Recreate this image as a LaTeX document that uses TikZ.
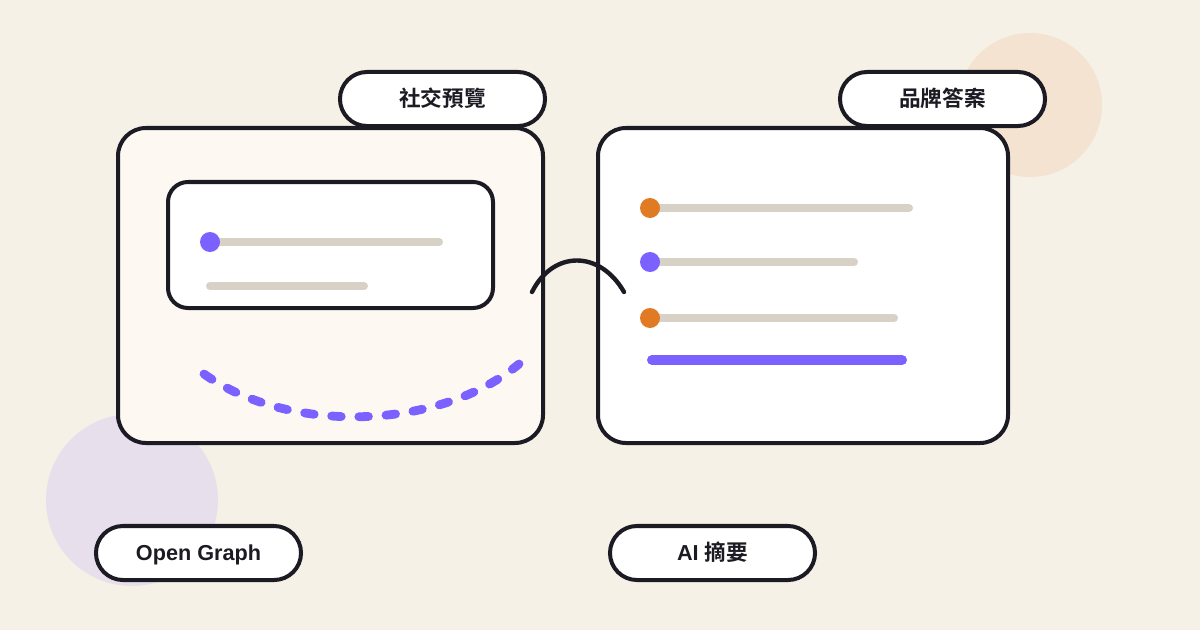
\documentclass[tikz,border=0pt]{standalone}
\usepackage{fontspec}
\setmainfont{Liberation Sans}
\newfontfamily\cjk{Noto Sans CJK TC}[BoldFont={* Bold}]
\usepackage{tikz}
\usetikzlibrary{shapes.misc, calc, positioning}
\usepackage{xcolor}
\definecolor{paper}{HTML}{F5F1E7}
\definecolor{cream}{HTML}{FDF9F2}
\definecolor{ink}{HTML}{1C1A23}
\definecolor{violet}{HTML}{7B61FF}
\definecolor{pumpkin}{HTML}{E07B24}
\definecolor{sand}{HTML}{D8D1C5}
\definecolor{peach}{HTML}{F5E3D1}
\definecolor{lilac}{HTML}{E7E0EC}

\begin{document}
\begin{tikzpicture}[x=0.025cm, y=-0.025cm, line join=round]
    \tikzstyle{card}=[draw=ink, line width=0.1cm, rounded corners=0.7cm]
    \tikzstyle{pill}=[rounded rectangle, draw=ink, fill=white, line width=0.1cm,
        minimum width=5.125cm, minimum height=1.35cm, inner sep=0pt,
        text height=11pt, text depth=0pt,
        text=ink, font=\bfseries\fontsize{15.4}{18}\selectfont]
    \tikzstyle{bar}=[sand, line width=0.2cm, line cap=round]
    \tikzstyle{dot}=[circle, inner sep=0pt, minimum size=0.5cm]

    % Background and frame
    \fill[paper] (0,0) rectangle (1200,630);
    \useasboundingbox (0,0) rectangle (1200,630);

    % Soft circles behind
    \fill[peach] (1030,105) circle[radius=1.8cm];
    \fill[lilac] (132,500) circle[radius=2.15cm];

    % Left card (social preview)
    \draw[card, fill=cream] (118,128) rectangle (543,443);
    \draw[card, fill=white, rounded corners=0.5cm] (168,182) rectangle (493,308);
    \coordinate (l1a) at (210,242);
    \coordinate (l1b) at (439,242);
    \coordinate (l2a) at (210,286);
    \coordinate (l2b) at (364,286);
    \draw[bar] (l1a) -- (l1b);
    \draw[bar] (l2a) -- (l2b);
    \node (dotL)[dot, fill=violet] at (l1a) {};

    % Dashed smile
    \coordinate (sa) at (204,374);
    \coordinate (sb) at (519,364);
    \draw[violet, line width=0.22cm, line cap=round, dash pattern=on 0.24cm off 0.44cm]
        (sa) .. controls (290,435) and (440,430) .. (sb);

    % Right card (brand answer)
    \draw[card, fill=white] (598,128) rectangle (1008,443);
    \coordinate (r1a) at (650,208);
    \coordinate (r1b) at (909,208);
    \coordinate (r2a) at (650,262);
    \coordinate (r2b) at (854,262);
    \coordinate (r3a) at (650,318);
    \coordinate (r3b) at (894,318);
    \coordinate (r4a) at (652,360);
    \coordinate (r4b) at (902,360);
    \draw[bar] (r1a) -- (r1b);
    \draw[bar] (r2a) -- (r2b);
    \draw[bar] (r3a) -- (r3b);
    \draw[violet, line width=0.25cm, line cap=round] (r4a) -- (r4b);
    \node (dotR1)[dot, fill=pumpkin] at (r1a) {};
    \node (dotR2)[dot, fill=violet] at (r2a) {};
    \node (dotR3)[dot, fill=pumpkin] at (r3a) {};

    % Bridge between the cards
    \coordinate (ba) at (532,292);
    \coordinate (bb) at (624,292);
    \draw[ink, line width=0.11cm, line cap=round]
        (ba) .. controls (553,250) and (600,250) .. (bb);

    % Labels
    \node (social)[pill] at (442.5,99) {\cjk\bfseries 社交預覽};
    \node (brand)[pill] at (942.5,99) {\cjk\bfseries 品牌答案};
    \node (og)[pill] at (198.5,553) {Open Graph};
    \node (ai)[pill] at (712.5,553) {AI {\cjk\bfseries 摘要}};
\end{tikzpicture}
\end{document}
